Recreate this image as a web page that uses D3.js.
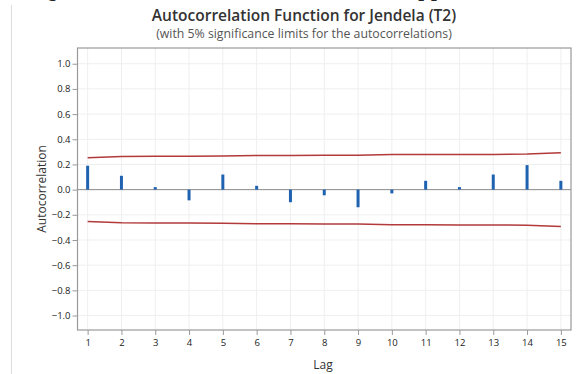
<!DOCTYPE html>
<html><head><meta charset="utf-8">
<script src="https://cdn.jsdelivr.net/npm/d3@7"></script>
<style>
html,body{margin:0;padding:0;background:#fff;}
svg{display:block;font-family:"Open Sans","Noto Sans",sans-serif;}
</style></head>
<body><svg id="c" width="584" height="374"></svg>
<script>
const lags = [1,2,3,4,5,6,7,8,9,10,11,12,13,14,15];
const acf = [0.19,0.11,0.02,-0.085,0.12,0.03,-0.10,-0.045,-0.14,-0.03,0.07,0.02,0.12,0.195,0.07];
const upperLimit = [0.253,0.263,0.266,0.266,0.268,0.271,0.271,0.274,0.274,0.279,0.279,0.280,0.280,0.283,0.293];
const yTicks = [-1.0,-0.8,-0.6,-0.4,-0.2,0.0,0.2,0.4,0.6,0.8,1.0];
const title = "Autocorrelation Function for Jendela (T2)";
const subtitle = "(with 5% significance limits for the autocorrelations)";
const xLabel = "Lag", yLabel = "Autocorrelation";

const svg = d3.select("#c");
const L = 77.5, R = 571, T = 48, B = 330;
const x = d3.scaleLinear().domain([0.70, 15.30]).range([L, R]);
const y = d3.scaleLinear().domain([-1.115, 1.125]).range([B, T]);

// page artifacts (fragments of surrounding document)
svg.append("line").attr("x1",11.5).attr("x2",11.5).attr("y1",5).attr("y2",374).attr("stroke","#dcdcdc").attr("stroke-width",1);
svg.append("text").attr("x",47).attr("y",-3).attr("font-family","DejaVu Serif, Liberation Serif, serif").attr("font-size",20).attr("fill","#222").text("g");
svg.append("text").attr("x",418).attr("y",-3).attr("font-family","DejaVu Serif, Liberation Serif, serif").attr("font-size",20).attr("fill","#222").text("pp");

// grid
svg.append("g").selectAll("line").data(lags).join("line")
  .attr("x1",d=>x(d)).attr("x2",d=>x(d)).attr("y1",T).attr("y2",B)
  .attr("stroke","#efefef").attr("stroke-width",1);
svg.append("g").selectAll("line").data(yTicks).join("line")
  .attr("x1",L).attr("x2",R).attr("y1",d=>y(d)).attr("y2",d=>y(d))
  .attr("stroke","#efefef").attr("stroke-width",1);

// zero line
svg.append("line").attr("x1",L).attr("x2",R).attr("y1",y(0)).attr("y2",y(0)).attr("stroke","#8c8c8c").attr("stroke-width",1);

// limits
const lineU = d3.line().x((d,i)=>x(lags[i])).y(d=>y(d));
const lineL = d3.line().x((d,i)=>x(lags[i])).y(d=>y(-d));
svg.append("path").attr("d",lineU(upperLimit)).attr("fill","none").attr("stroke","#b23a3a").attr("stroke-width",1.5);
svg.append("path").attr("d",lineL(upperLimit)).attr("fill","none").attr("stroke","#b23a3a").attr("stroke-width",1.5);

// bars
svg.append("g").selectAll("line").data(acf).join("line")
  .attr("x1",(d,i)=>x(lags[i])).attr("x2",(d,i)=>x(lags[i]))
  .attr("y1",y(0)).attr("y2",d=>y(d))
  .attr("stroke","#1f62b0").attr("stroke-width",3);

// frame
svg.append("rect").attr("x",L).attr("y",T).attr("width",R-L).attr("height",B-T)
  .attr("fill","none").attr("stroke","#9a9a9a").attr("stroke-width",1.2);

// axes
const yAxis = d3.axisLeft(y).tickValues(yTicks).tickFormat(d3.format(".1f")).tickSize(5).tickPadding(2);
const gy = svg.append("g").attr("transform",`translate(${L},0)`).call(yAxis);
const xAxis = d3.axisBottom(x).tickValues(lags).tickFormat(d3.format("d")).tickSize(5).tickPadding(4);
const gx = svg.append("g").attr("transform",`translate(0,${B})`).call(xAxis);
[gy,gx].forEach(g=>{
  g.select(".domain").remove();
  g.selectAll(".tick line").attr("stroke","#9a9a9a");
  g.selectAll(".tick text").attr("fill","#222").attr("font-size",9.5).attr("font-family","Open Sans, sans-serif");
});

// titles
svg.append("text").attr("x",304).attr("y",21).attr("text-anchor","middle")
  .attr("font-size",15.5).attr("font-weight",600).attr("fill","#333").text(title);
svg.append("text").attr("x",304).attr("y",38).attr("text-anchor","middle")
  .attr("font-size",12.3).attr("fill","#555").text(subtitle);
svg.append("text").attr("x",323).attr("y",369).attr("text-anchor","middle")
  .attr("font-size",12).attr("fill","#333").text(xLabel);
svg.append("text").attr("transform","translate(46,189) rotate(-90)").attr("text-anchor","middle")
  .attr("font-size",12).attr("fill","#333").text(yLabel);
</script></body></html>
